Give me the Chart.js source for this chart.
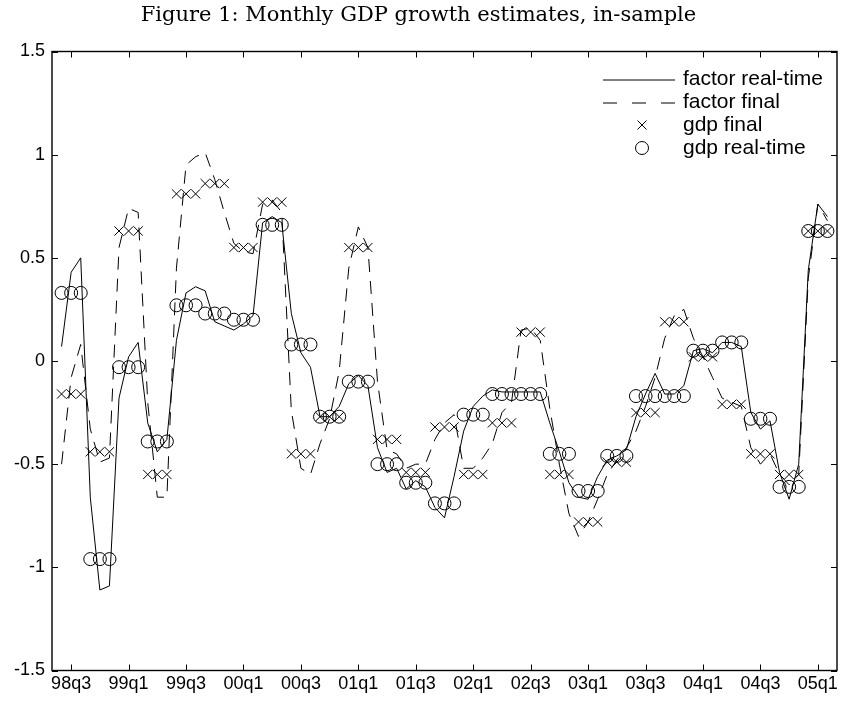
<!DOCTYPE html>
<html>
<head>
<meta charset="utf-8">
<title>Monthly GDP growth estimates, in-sample</title>
<script src="https://cdn.jsdelivr.net/npm/chart.js@4.4.1/dist/chart.umd.min.js"></script>
<style>
  html, body { margin: 0; padding: 0; background: #fff; }
  canvas { display: block; }
</style>
</head>
<body>
<canvas id="gdpChart" width="845" height="706"></canvas>
<script>
// quarters 98q3 .. 05q1, each plotted over its three months
const quarters = ['98q3','98q4','99q1','99q2','99q3','99q4','00q1','00q2','00q3','00q4',
                  '01q1','01q2','01q3','01q4','02q1','02q2','02q3','02q4','03q1','03q2',
                  '03q3','03q4','04q1','04q2','04q3','04q4','05q1'];

const gdpRealTime = [0.33, -0.96, -0.03, -0.39, 0.27, 0.23, 0.20, 0.66, 0.08, -0.27,
                     -0.10, -0.50, -0.59, -0.69, -0.26, -0.16, -0.16, -0.45, -0.63, -0.46,
                     -0.17, -0.17, 0.05, 0.09, -0.28, -0.61, 0.63];

const gdpFinal = [-0.16, -0.44, 0.63, -0.55, 0.81, 0.86, 0.55, 0.77, -0.45, -0.27,
                  0.55, -0.38, -0.54, -0.32, -0.55, -0.30, 0.14, -0.55, -0.78, -0.49,
                  -0.25, 0.19, 0.02, -0.21, -0.45, -0.55, 0.63];

// monthly factor estimates, 81 months
const factorRealTime = [
   0.07,  0.43,  0.50, -0.66, -1.11, -1.09, -0.18,  0.02,  0.09,
  -0.30, -0.44, -0.38,  0.10,  0.33,  0.36,  0.34,  0.19,  0.17,
   0.15,  0.18,  0.22,  0.67,  0.70,  0.67,  0.23,  0.04, -0.03,
  -0.27, -0.27, -0.22, -0.11, -0.07, -0.12, -0.42, -0.54, -0.52,
  -0.62, -0.58, -0.61, -0.71, -0.76, -0.56, -0.34, -0.22, -0.17,
  -0.14, -0.15, -0.15, -0.15, -0.15, -0.15, -0.30, -0.44, -0.59,
  -0.66, -0.67, -0.56, -0.48, -0.46, -0.43, -0.27, -0.16, -0.06,
  -0.16, -0.16, -0.12,  0.05,  0.06,  0.04,  0.09,  0.09,  0.07,
  -0.25, -0.33, -0.29, -0.54, -0.67, -0.50,  0.44,  0.76,  0.70
];

const factorFinal = [
  -0.50, -0.08,  0.08, -0.33, -0.49, -0.47,  0.55,  0.74,  0.72,
  -0.20, -0.66, -0.66,  0.45,  0.95,  0.99,  1.01,  0.88,  0.72,
   0.57,  0.53,  0.52,  0.76,  0.78,  0.72, -0.24, -0.52, -0.55,
  -0.40, -0.28, -0.05,  0.45,  0.65,  0.55, -0.10, -0.43, -0.45,
  -0.52, -0.50, -0.50, -0.38, -0.30, -0.26, -0.52, -0.52, -0.47,
  -0.40, -0.25, -0.20,  0.15,  0.16,  0.10, -0.23, -0.50, -0.74,
  -0.85, -0.78, -0.67, -0.55, -0.48, -0.42, -0.34, -0.22, -0.08,
   0.11,  0.22,  0.25,  0.11,  0.02, -0.08, -0.18, -0.20, -0.22,
  -0.42, -0.50, -0.45, -0.55, -0.60, -0.55,  0.40,  0.76,  0.68
];

const tickMonths = [2, 8, 14, 20, 26, 32, 38, 44, 50, 56, 62, 68, 74, 80];
const tickLabels = ['98q3','99q1','99q3','00q1','00q3','01q1','01q3','02q1','02q3','03q1',
                    '03q3','04q1','04q3','05q1'];

const sansFont = '"Liberation Sans", Arial, Helvetica, sans-serif';

function monthlyPoints(values) {
    return values.map((v, i) => ({ x: i + 1, y: v }));
}

// a quarterly value is drawn once for each month of its quarter
function quarterlyPoints(values) {
    const pts = [];
    values.forEach((v, q) => {
        for (let k = 1; k <= 3; k++) pts.push({ x: q * 3 + k, y: v });
    });
    return pts;
}

// box round the plot with inward ticks on all four sides
const matlabFrame = {
    id: 'matlabFrame',
    afterDatasetsDraw(chart) {
        const { ctx, chartArea: a, scales } = chart;
        const len = 6;
        ctx.save();
        ctx.strokeStyle = '#000';
        ctx.lineWidth = 1.4;
        ctx.strokeRect(a.left, a.top, a.width, a.height);
        ctx.lineWidth = 1;
        ctx.beginPath();
        scales.x.ticks.forEach(t => {
            const px = Math.round(scales.x.getPixelForValue(t.value)) + 0.5;
            ctx.moveTo(px, a.bottom); ctx.lineTo(px, a.bottom - len);
            ctx.moveTo(px, a.top); ctx.lineTo(px, a.top + len);
        });
        scales.y.ticks.forEach(t => {
            const py = Math.round(scales.y.getPixelForValue(t.value)) + 0.5;
            ctx.moveTo(a.left, py); ctx.lineTo(a.left + len, py);
            ctx.moveTo(a.right, py); ctx.lineTo(a.right - len, py);
        });
        ctx.stroke();
        ctx.restore();
    }
};

// legend inside the top right corner, no box
const cornerLegend = {
    id: 'cornerLegend',
    afterDraw(chart) {
        const ctx = chart.ctx;
        const a = chart.chartArea;
        const x0 = a.right - 234, x1 = a.right - 162, tx = a.right - 154;
        const rows = [79, 102, 125, 148];
        ctx.save();
        ctx.font = '21px ' + sansFont;
        ctx.textBaseline = 'middle';
        ctx.fillStyle = '#000';
        ctx.strokeStyle = '#000';
        ctx.lineWidth = 1;
        chart.data.datasets.forEach((ds, i) => {
            const y = rows[i];
            const cx = (x0 + x1) / 2 + 3;
            ctx.beginPath();
            if (ds.showLine === false && ds.pointStyle === 'crossRot') {
                ctx.moveTo(cx - 4.5, y - 4.5); ctx.lineTo(cx + 4.5, y + 4.5);
                ctx.moveTo(cx - 4.5, y + 4.5); ctx.lineTo(cx + 4.5, y - 4.5);
                ctx.stroke();
            } else if (ds.showLine === false) {
                ctx.arc(cx, y, 6.5, 0, Math.PI * 2);
                ctx.stroke();
            } else {
                ctx.setLineDash(ds.borderDash ? [14, 15] : []);
                ctx.moveTo(x0, y + 1); ctx.lineTo(x1, y + 1);
                ctx.stroke();
                ctx.setLineDash([]);
            }
            ctx.fillText(ds.label, tx, y);
        });
        ctx.restore();
    }
};

const ctx = document.getElementById('gdpChart').getContext('2d');

new Chart(ctx, {
    type: 'line',
    data: {
        datasets: [
            {
                label: 'factor real-time',
                data: monthlyPoints(factorRealTime),
                borderColor: '#000',
                borderWidth: 1,
                pointRadius: 0,
                tension: 0,
                fill: false
            },
            {
                label: 'factor final',
                data: monthlyPoints(factorFinal),
                borderColor: '#000',
                borderWidth: 1,
                borderDash: [13, 9],
                pointRadius: 0,
                tension: 0,
                fill: false
            },
            {
                label: 'gdp final',
                data: quarterlyPoints(gdpFinal),
                showLine: false,
                pointStyle: 'crossRot',
                pointRadius: 6.5,
                pointBorderWidth: 1,
                pointBorderColor: '#000',
                pointBackgroundColor: 'rgba(0,0,0,0)'
            },
            {
                label: 'gdp real-time',
                data: quarterlyPoints(gdpRealTime),
                showLine: false,
                pointStyle: 'circle',
                pointRadius: 6.5,
                pointBorderWidth: 1,
                pointBorderColor: '#000',
                pointBackgroundColor: 'rgba(0,0,0,0)'
            }
        ]
    },
    options: {
        responsive: false,
        animation: false,
        events: [],
        layout: { padding: { right: 8 } },
        plugins: {
            legend: { display: false },
            tooltip: { enabled: false },
            title: {
                display: true,
                text: 'Figure 1: Monthly GDP growth estimates, in-sample',
                color: '#000',
                font: { family: '"DejaVu Serif", "Liberation Serif", serif', size: 21, weight: 'normal' },
                padding: { top: 3, bottom: 23.3 }
            }
        },
        scales: {
            x: {
                type: 'linear',
                min: 0,
                max: 82,
                grid: { display: false, drawTicks: false },
                border: { display: false },
                ticks: {
                    autoSkip: false,
                    maxRotation: 0,
                    padding: 3,
                    color: '#000',
                    font: { family: sansFont, size: 18 },
                    callback: v => {
                        const i = tickMonths.indexOf(v);
                        return i >= 0 ? tickLabels[i] : '';
                    }
                },
                afterBuildTicks: s => { s.ticks = tickMonths.map(v => ({ value: v })); },
                afterFit: s => { s.height = 35.5; s.paddingLeft = 0; s.paddingRight = 0; }
            },
            y: {
                min: -1.5,
                max: 1.5,
                grid: { display: false, drawTicks: false },
                border: { display: false },
                ticks: {
                    stepSize: 0.5,
                    padding: 7,
                    color: '#000',
                    font: { family: sansFont, size: 18 },
                    callback: v => String(Math.round(v * 10) / 10)
                },
                afterFit: s => { s.width = 52; }
            }
        }
    },
    plugins: [matlabFrame, cornerLegend]
});
</script>
</body>
</html>
